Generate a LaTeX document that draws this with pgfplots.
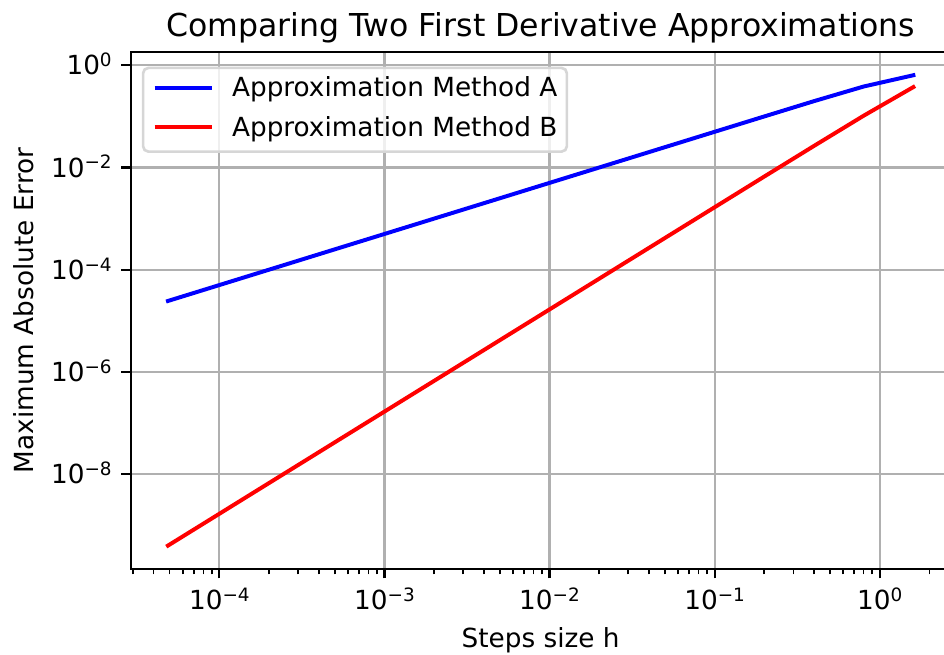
\documentclass[border=0pt]{standalone}
\usepackage{pgfplots}
\pgfplotsset{compat=1.18}
\usepackage{fontspec}
\setmainfont{DejaVu Sans}
\definecolor{gridgray}{RGB}{176,176,176}
\definecolor{legendedge}{RGB}{214,214,214}
\newcommand\sexp[1]{\raisebox{3.1bp}{\fontsize{7}{8}\selectfont #1}}
\begin{document}
\fontsize{10}{12}\selectfont
\begin{tikzpicture}
\begin{axis}[
  at={(0,0)}, anchor=south west,
  scale only axis, width=310.6bp, height=195.84bp,
  xmode=log, ymode=log,
  xmin=2.903e-5, xmax=2.691, ymin=1.378e-10, ymax=1.817,
  axis line style={line width=0.8bp, black},
  tick align=outside, tick pos=left,
  major tick length=3.5bp, minor tick length=2bp,
  major tick style={black, line width=0.8bp},
  minor tick style={black, line width=0.6bp},
  xtick={1e-4,1e-3,1e-2,1e-1,1},
  xticklabels={10\sexp{−4},10\sexp{−3},10\sexp{−2},10\sexp{−1},10\sexp{0}},
  minor xtick={3e-5,4e-5,5e-5,6e-5,7e-5,8e-5,9e-5,
    2e-4,3e-4,4e-4,5e-4,6e-4,7e-4,8e-4,9e-4,
    2e-3,3e-3,4e-3,5e-3,6e-3,7e-3,8e-3,9e-3,
    2e-2,3e-2,4e-2,5e-2,6e-2,7e-2,8e-2,9e-2,
    0.2,0.3,0.4,0.5,0.6,0.7,0.8,0.9,2},
  ytick={1e-8,1e-6,1e-4,1e-2,1},
  yticklabels={10\sexp{−8},10\sexp{−6},10\sexp{−4},10\sexp{−2},10\sexp{0}},
  yminorticks=false,
  xticklabel style={anchor=base, inner sep=0pt, yshift=-11.7bp},
  yticklabel style={anchor=base east, inner sep=0pt, xshift=-3.5bp, yshift=-3.6bp},
  grid=major,
  major grid style={gridgray, line width=0.8bp},
  legend cell align=left,
  legend style={
    at={(0,1)}, anchor=north west, xshift=4.2bp, yshift=-5.5bp,
    draw=legendedge, line width=1bp, rounded corners=2bp,
    fill=white, fill opacity=0.8, text opacity=1,
    inner xsep=3.6bp, inner ysep=3.4bp,
    row sep=4.9bp, column sep=7.0bp,
    nodes={inner sep=0pt, text height=7.6bp, text depth=2.4bp},
    font=\fontsize{10}{12}\selectfont,
  },
  legend image code/.code={\draw[#1, line cap=butt] (0bp,0.9bp) -- (21.6bp,0.9bp);},
]
\addplot[blue, line width=1.5bp, line cap=rect] table {
h err
4.8828125e-5 2.4414e-5
9.765625e-5 4.8828e-5
1.953125e-4 9.7656e-5
3.90625e-4 1.9531e-4
7.8125e-4 3.9062e-4
1.5625e-3 7.8125e-4
3.125e-3 1.5625e-3
6.25e-3 3.1250e-3
1.25e-2 6.2497e-3
2.5e-2 1.2499e-2
5e-2 2.4995e-2
0.1 4.9986e-2
0.2 9.989e-2
0.4 0.1991
0.8 0.385
1.6 0.64
};
\addlegendentry{Approximation Method A}
\addplot[red, line width=1.5bp, line cap=rect] table {
h err
4.8828125e-5 3.9736e-10
9.765625e-5 1.5895e-9
1.953125e-4 6.3578e-9
3.90625e-4 2.5431e-8
7.8125e-4 1.0173e-7
1.5625e-3 4.0690e-7
3.125e-3 1.6276e-6
6.25e-3 6.5104e-6
1.25e-2 2.6042e-5
2.5e-2 1.0416e-4
5e-2 4.1662e-4
0.1 1.6658e-3
0.2 6.653e-3
0.4 2.6454e-2
0.8 0.10330
1.6 0.37527
};
\addlegendentry{Approximation Method B}
\end{axis}
\node[anchor=base, font=\fontsize{12}{14}\selectfont] at ([yshift=6bp]current axis.north) {Comparing Two First Derivative Approximations};
\node[anchor=base] at ([yshift=-29.8bp]current axis.south) {Steps size h};
\node[anchor=base, rotate=90] at ([xshift=-36.9bp]current axis.west) {Maximum Absolute Error};
\pgfresetboundingbox
\path[use as bounding box] ([xshift=-49.51bp,yshift=-32.54bp]current axis.south west) rectangle ([xshift=308.08bp,yshift=215.57bp]current axis.south west);
\end{tikzpicture}
\end{document}
